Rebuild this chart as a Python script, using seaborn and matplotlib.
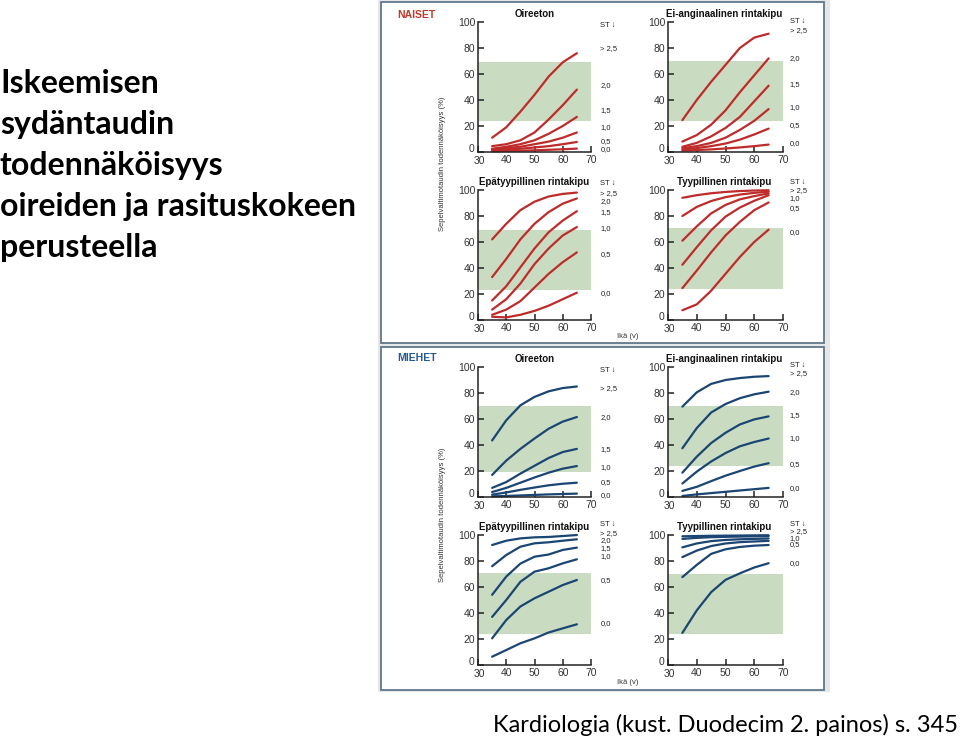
import matplotlib
matplotlib.use("Agg")
import pandas as pd
import seaborn as sns
import matplotlib.pyplot as plt
import matplotlib.transforms as mtransforms
from matplotlib.patches import Rectangle

# ---- data (probability in %) ----
AGES = [35, 40, 45, 50, 55, 60, 65]

# naiset, one row per ST-depression curve, highest first
W_OIREETON = [
    [11, 19, 31, 44, 58, 69, 76],
    [4.5, 6, 9, 15, 25, 36, 48],
    [2.5, 4, 6, 9, 14, 20, 27],
    [2, 3, 4, 6, 8, 11, 15],
    [1.5, 2, 2.5, 3.5, 4.5, 6, 7.7],
    [0.5, 0.8, 1, 1.3, 1.7, 2.1, 2.6],
]
W_EI_ANG = [
    [24.5, 40, 54, 67, 80, 88, 91],
    [8, 13, 21, 32, 46, 59, 72],
    [4, 7, 12, 18.5, 27, 39, 51],
    [3, 4.5, 7, 11, 17, 24, 33],
    [2, 3, 4.5, 6.5, 9.5, 13.5, 18],
    [1, 1.5, 2, 2.7, 3.5, 4.5, 5.7],
]
W_EPATYYP = [
    [62, 74, 84.5, 91, 95, 97, 98],
    [33, 47, 62, 74, 83, 89.5, 93.5],
    [15, 26, 40.5, 55, 67.5, 76.5, 83.7],
    [8, 16, 28, 43, 55, 65, 71.5],
    [4, 8, 14.5, 25, 35.5, 44.5, 52],
    [2.5, 2, 4, 7, 11, 16, 21],
]
W_TYYP = [
    [94, 96, 97.5, 98.5, 99.2, 99.6, 99.8],
    [80, 87, 91.5, 94.5, 96.5, 97.8, 98.7],
    [61, 72, 82, 88.5, 92.8, 95.3, 97.4],
    [42.5, 56, 69, 79.5, 86.5, 91.7, 96],
    [24.5, 38, 52, 65, 75.5, 84.5, 90.4],
    [7.5, 12, 22.5, 35.5, 48.5, 60, 69.5],
]

# miehet
M_OIREETON = [
    [43.5, 59, 70.5, 77, 81.3, 83.8, 85],
    [17, 28, 37, 45, 52.5, 58, 61.5],
    [7, 11.5, 18, 24, 30, 34.6, 37],
    [3.8, 7, 11, 15, 18.7, 21.8, 23.8],
    [1.8, 3.5, 5.5, 7.3, 9, 10.2, 11],
    [0.5, 0.8, 1.2, 1.6, 2, 2.3, 2.6],
]
M_EI_ANG = [
    [69.5, 80.5, 87, 90, 91.5, 92.5, 93],
    [37.5, 53, 65, 71.5, 76, 79, 81],
    [18.7, 31, 41.5, 49.4, 55.8, 59.7, 62],
    [10.4, 19.5, 27.3, 33.8, 39, 42.3, 45],
    [4.7, 7.8, 12.2, 16.4, 20, 23.4, 26],
    [0.8, 2, 3, 4, 5, 6, 7],
]
M_EPATYYP = [
    [92.3, 95.6, 97.4, 98.2, 98.5, 99.2, 100],
    [76, 84.6, 91, 93.6, 94.4, 95.6, 96.7],
    [54, 68, 78, 83.3, 85, 88.5, 90.3],
    [37, 50, 64, 71.8, 74.4, 78.2, 81.3],
    [20.5, 34.6, 45, 51.3, 56.4, 61.5, 65.4],
    [6.4, 11.5, 16.7, 20.5, 25, 28.2, 31.3],
]
M_TYYP = [
    [99, 99.2, 99.4, 99.5, 99.6, 99.7, 99.8],
    [97, 97.8, 98.3, 98.6, 98.8, 99, 99.1],
    [90.5, 93.5, 95.3, 96.2, 96.7, 97, 97.3],
    [83, 88, 91.5, 93.5, 94.5, 95, 95.5],
    [67.6, 77, 85.5, 89, 90.8, 91.8, 92.3],
    [24.7, 42, 56, 65.5, 70.5, 75, 78.3],
]

# green band (low, high) per panel
BAND_W = [(24, 69), (24, 70), (23, 69.5), (23.5, 70.5)]
BAND_M = [(19.5, 70), (23.5, 70), (23.5, 70.5), (23.5, 70)]

# ST labels at the right of each panel, and their heights
ST_FULL = ["ST ↓", "> 2,5", "2,0", "1,5", "1,0", "0,5", "0,0"]
ST_SHORT = ["ST ↓", "> 2,5", "1,0", "0,5", "0,0"]
ST_Y_W = [
    [97.5, 79.5, 51.3, 32, 18.5, 8.2, 2],
    [100.5, 93.5, 71.6, 51.7, 34, 20, 6.2],
    [105, 97, 91, 82.4, 70.3, 50, 20.7],
    [105.7, 99.5, 93.5, 85.8, 67.2],
]
ST_Y_M = [
    [97.5, 83.3, 60.8, 36.7, 23, 11.5, 1.3],
    [101, 94.8, 80.5, 62.3, 44.7, 24.7, 6.5],
    [107.7, 101.3, 95.6, 89.7, 83.3, 64.6, 32],
    [108.4, 102.5, 97, 92.3, 78.3],
]

TITLES = ["Oireeton", "Ei-anginaalinen rintakipu",
          "Epätyypillinen rintakipu", "Tyypillinen rintakipu"]

RED = "#bf2b2b"
BLUE = "#1b4572"
GREEN = "#c9dcc1"

sns.set_theme(style="white")
plt.rcParams["font.family"] = ["Liberation Sans Narrow", "Liberation Sans", "DejaVu Sans"]

W, H = 960, 738
fig = plt.figure(figsize=(W / 100, H / 100), dpi=100)


def rect(x0, y0, x1, y1):
    # pixel box -> figure fraction
    return [x0 / W, 1 - y1 / H, (x1 - x0) / W, (y1 - y0) / H]


# grey frame + two white boxes (behind the axes)
fig.add_artist(Rectangle((378 / W, 1 - 692 / H), 452 / W, 692 / H,
                         transform=fig.transFigure, fc="#e4e6e8", ec="none",
                         zorder=-20))
for y0, y1 in [(2, 343), (347, 690)]:
    fig.add_artist(Rectangle((381 / W, 1 - y1 / H), 443 / W, (y1 - y0) / H,
                             transform=fig.transFigure, fc="white",
                             ec="#61778c", lw=1.3, zorder=-10))

# axes pixel boxes
cols = [(478, 591), (668, 783)]
rows = [22, 190, 367, 535]
AX_H = 130

panels = [
    (W_OIREETON, RED, BAND_W[0], ST_FULL, ST_Y_W[0], 0, 0),
    (W_EI_ANG, RED, BAND_W[1], ST_FULL, ST_Y_W[1], 0, 1),
    (W_EPATYYP, RED, BAND_W[2], ST_FULL, ST_Y_W[2], 1, 0),
    (W_TYYP, RED, BAND_W[3], ST_SHORT, ST_Y_W[3], 1, 1),
    (M_OIREETON, BLUE, BAND_M[0], ST_FULL, ST_Y_M[0], 2, 0),
    (M_EI_ANG, BLUE, BAND_M[1], ST_FULL, ST_Y_M[1], 2, 1),
    (M_EPATYYP, BLUE, BAND_M[2], ST_FULL, ST_Y_M[2], 3, 0),
    (M_TYYP, BLUE, BAND_M[3], ST_SHORT, ST_Y_M[3], 3, 1),
]

# nudge the corner "0" up-left, like the original
zero_shift = mtransforms.ScaledTranslation(-1 / 100, 4 / 100, fig.dpi_scale_trans)

for i, (curves, color, band, labels, label_y, r, c) in enumerate(panels):
    x0, x1 = cols[c]
    y0 = rows[r]
    ax = fig.add_axes(rect(x0, y0, x1, y0 + AX_H))
    ax.set_facecolor("none")

    df = pd.DataFrame({
        "age": AGES * len(curves),
        "p": [v for row in curves for v in row],
        "curve": [k for k in range(len(curves)) for _ in AGES],
    })
    ax.axhspan(band[0], band[1], color=GREEN, lw=0, zorder=0)
    sns.lineplot(data=df, x="age", y="p", units="curve", estimator=None,
                 color=color, lw=1.6, ax=ax, legend=False)
    for ln in ax.lines:
        ln.set_clip_on(False)
        ln.set_solid_capstyle("round")
        ln.set_solid_joinstyle("round")

    ax.set_xlim(30, 70)
    ax.set_ylim(0, 100)
    ax.set_xticks([30, 40, 50, 60, 70])
    ax.set_yticks([0, 20, 40, 60, 80, 100])
    ax.set_xlabel("")
    ax.set_ylabel("")
    sns.despine(ax=ax)
    for s in ["left", "bottom"]:
        ax.spines[s].set_color("#222222")
        ax.spines[s].set_linewidth(1.1)
    ax.tick_params(bottom=True, left=True, direction="in", length=4,
                   width=1.1, color="#222222", labelsize=7.5, pad=2,
                   labelcolor="#333333")
    ylab0 = ax.get_yticklabels()[0]
    ylab0.set_transform(ylab0.get_transform() + zero_shift)
    xlab0 = ax.get_xticklabels()[0]
    xlab0.set_transform(xlab0.get_transform()
                        + mtransforms.ScaledTranslation(1 / 100, -1 / 100, fig.dpi_scale_trans))

    ax.text(50 if c == 0 else 49.5, 102, TITLES[i % 4], ha="center",
            va="bottom", fontsize=7, fontweight="bold", color="#111111")

    lx = 73.3 if c == 0 else 72.3
    for lab, ly in zip(labels, label_y):
        ax.text(lx, ly, lab, ha="left", va="center", fontsize=5.5,
                color="#222222", clip_on=False)

# section headers, shared labels
for txt, col, y in [("NAISET", "#c0392b", 15), ("MIEHET", "#245a94", 358)]:
    fig.text(397 / W, 1 - y / H, txt, ha="left", va="center",
             fontsize=7.5, fontweight="bold", color=col)
for yc in [164, 515]:
    fig.text(443 / W, 1 - yc / H, "Sepelvaltimotaudin todennäköisyys (%)",
             rotation=90, ha="center", va="center", fontsize=5.5,
             color="#333333")
for yc in [336, 683]:
    fig.text(628 / W, 1 - yc / H, "Ikä (v)", ha="center", va="center",
             fontsize=5.5, color="#333333")

# slide text
fig.text(0, 1 - 69 / H,
         "Iskeemisen\nsydäntaudin\ntodennäköisyys\noireiden ja rasituskokeen\nperusteella",
         ha="left", va="top", fontsize=23, fontweight="bold",
         family=["Lato", "DejaVu Sans"], linespacing=1.5, color="black")
fig.text(958 / W, 1 - 725 / H, "Kardiologia (kust. Duodecim 2. painos) s. 345",
         ha="right", va="center", fontsize=17,
         family=["Lato", "DejaVu Sans"], color="black")

fig.savefig("out.png", dpi=100)
